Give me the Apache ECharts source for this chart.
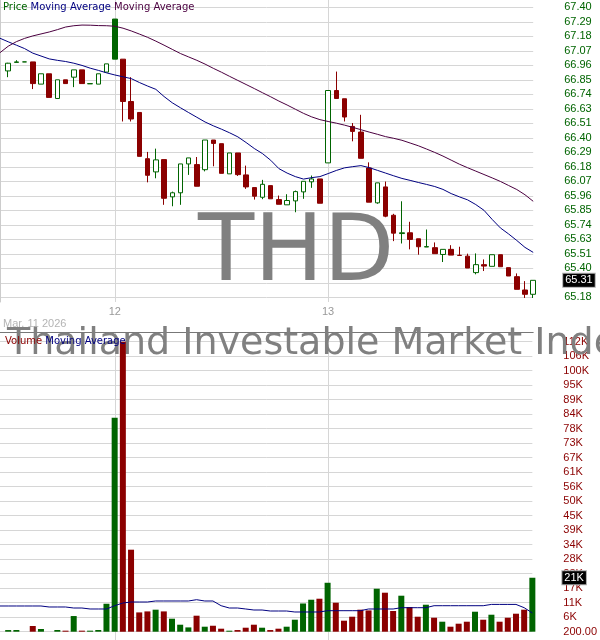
<!DOCTYPE html>
<html>
<head>
<meta charset="utf-8">
<script src="https://cdn.jsdelivr.net/npm/echarts@6/dist/echarts.min.js"></script>
<style>html,body{margin:0;padding:0;background:#fff}#c{width:600px;height:640px}</style>
</head>
<body>
<div id="c"></div>
<script>
// ---- categories (15-minute bars); first slot is the bar just before the window (MA lines start there)
const edgeTime = '03-11 12:30';
const day11Slots = ['12:45','13:00','13:15','13:30','13:45','14:00','14:15','14:30','14:45','15:00','15:15','15:30','15:45'];
const daySlots = ['09:30','09:45','10:00','10:15','10:30','10:45','11:00','11:15','11:30','11:45','12:00','12:15','12:30','12:45','13:00','13:15','13:30','13:45','14:00','14:15','14:30','14:45','15:00','15:15','15:30','15:45'];

// ---- x tick labels (bar index -> day label)
const dayTickIdx = [13, 39];
const dayTickLabels = ['12', '13'];
const dateLabel = 'Mar. 11 2026';

// ---- price OHLC
const open  = [66.913,66.978,66.982,66.982,66.812,66.891,66.702,66.845,66.865,66.921,66.814,66.812,66.904,67.310,67.003,66.679,66.595,66.241,66.140,66.234,65.949,65.980,66.201,66.196,66.157,66.384,66.356,66.125,66.285,66.117,66.020,65.946,66.035,65.928,65.888,65.918,65.987,66.064,66.086,66.209,66.763,66.700,66.488,66.445,66.170,65.903,66.025,65.808,65.668,65.674,65.628,65.565,65.560,65.508,65.547,65.502,65.495,65.369,65.430,65.417,65.506,65.407,65.338,65.236,65.203];
const close = [66.972,66.982,66.982,66.816,66.891,66.710,66.845,66.816,66.921,66.816,66.816,66.891,66.967,67.003,66.679,66.545,66.259,66.114,66.232,65.938,65.980,66.201,66.247,66.030,66.384,66.358,66.129,66.285,66.119,66.025,65.954,66.045,65.934,65.892,65.921,65.989,66.068,66.086,65.900,66.763,66.702,66.560,66.450,66.244,65.908,66.056,65.801,65.671,65.674,65.623,65.567,65.568,65.514,65.547,65.503,65.500,65.404,65.430,65.419,65.506,65.414,65.343,65.241,65.203,65.310];
const low   = [66.865,66.978,66.982,66.774,66.812,66.710,66.702,66.816,66.789,66.816,66.814,66.812,66.904,67.003,66.526,66.526,66.259,66.060,66.091,65.888,65.877,65.888,66.117,66.030,66.144,66.183,66.129,66.125,66.109,66.010,65.928,65.931,65.934,65.892,65.888,65.831,65.934,66.018,65.900,66.209,66.702,66.526,66.374,66.244,65.908,65.896,65.793,65.610,65.592,65.547,65.506,65.565,65.514,65.450,65.503,65.500,65.404,65.356,65.381,65.417,65.414,65.343,65.241,65.175,65.175];
const high  = [66.975,66.995,66.982,66.982,66.891,66.891,66.845,66.845,66.921,66.921,66.816,66.891,66.967,67.310,67.003,66.865,66.595,66.293,66.318,66.234,65.989,66.201,66.247,66.254,66.384,66.384,66.356,66.285,66.285,66.188,66.020,66.079,66.035,65.959,65.969,65.997,66.068,66.112,66.086,66.763,66.908,66.700,66.514,66.577,66.213,66.056,66.066,65.819,65.915,65.758,65.628,65.699,65.600,65.547,65.579,65.567,65.514,65.516,65.470,65.506,65.506,65.407,65.363,65.304,65.310];

// ---- price moving averages (66 values: edge slot + 65 bars)
const maShort = [67.163,67.136,67.110,67.084,67.049,67.027,67.005,66.994,66.985,66.972,66.955,66.934,66.917,66.898,66.882,66.868,66.854,66.824,66.797,66.772,66.717,66.669,66.631,66.594,66.558,66.522,66.493,66.467,66.439,66.408,66.365,66.319,66.280,66.229,66.165,66.131,66.104,66.085,66.096,66.104,66.127,66.151,66.171,66.180,66.188,66.173,66.152,66.131,66.110,66.090,66.075,66.059,66.044,66.028,66.006,65.974,65.949,65.926,65.890,65.846,65.776,65.711,65.665,65.615,65.562,65.524];
const maLong  = [67.053,67.102,67.137,67.162,67.181,67.196,67.211,67.229,67.249,67.259,67.264,67.263,67.260,67.259,67.255,67.240,67.219,67.195,67.170,67.141,67.110,67.078,67.046,67.020,66.994,66.965,66.933,66.903,66.871,66.840,66.809,66.778,66.746,66.715,66.682,66.652,66.620,66.588,66.561,66.540,66.526,66.513,66.498,66.481,66.463,66.445,66.428,66.410,66.397,66.382,66.361,66.340,66.315,66.289,66.261,66.230,66.199,66.172,66.146,66.120,66.094,66.067,66.036,66.005,65.965,65.915];

// ---- volume
const volume = [640,650,0,2200,1050,0,650,400,6050,400,400,650,10800,82650,112000,31670,7450,7840,8500,7840,5020,2700,1660,6180,1930,2300,1160,390,640,1540,2700,1540,640,1160,1930,4630,10900,12350,12740,18900,11200,4250,5790,8500,8220,16600,15060,8000,13900,9530,5790,10420,5400,3860,1930,3090,3860,7720,4630,6560,3860,5400,6950,8500,20840];
const volumeMA = [9930,9930,9930,9930,9930,9930,9540,9540,9540,9150,9150,8770,8770,8770,10040,11080,11470,11470,11470,11860,11860,11860,11860,11860,12360,11860,11860,10040,9150,9150,8770,8380,8380,7990,7990,7990,7610,7610,7610,7610,8110,8110,8110,8110,8110,8770,8770,8770,8770,9270,9270,9270,9270,10040,10040,10040,10040,10040,10040,10040,10540,10540,10540,10540,9270,7220];

// ---- axis tick labels
const priceMin = 65.18, priceMax = 67.40, priceStep = 0.111;
const priceTickLabels = ['65.18','65.29','65.40','65.51','65.63','65.74','65.85','65.96','66.07','66.18','66.29','66.40','66.51','66.63','66.74','66.85','66.96','67.07','67.18','67.29','67.40'];
const volStep = 5600, volMax = 112000;
const volTickLabels = ['200.00','6K','11K','17K','23K','28K','34K','39K','45K','50K','56K','61K','67K','73K','78K','84K','89K','95K','100K','106K','112K'];

// ---- build
const GREEN = '#006400', RED = '#8b0000', NAVY = '#000080', PURPLE = '#4b0040';
const GRID = '#d6d6d6';
const categories = [edgeTime]
  .concat(day11Slots.map(t => '03-11 ' + t))
  .concat(daySlots.map(t => '03-12 ' + t))
  .concat(daySlots.map(t => '03-13 ' + t));
const tickCat = dayTickIdx.map(i => i + 1);

const trend = close.map((c, i) => c >= (i ? close[i - 1] : open[i]) ? GREEN : RED);
const candleData = open.map((o, i) => {
  const col = trend[i];
  const fill = close[i] > o ? '#ffffff' : col;
  return {
    value: [i + 1, o, close[i], low[i], high[i]],
    itemStyle: { color: fill, color0: fill, borderColor: col, borderColor0: col, borderColorDoji: col, borderWidth: 1 }
  };
});
const volData = volume.map((v, i) => ({ value: [i + 1, v], itemStyle: { color: trend[i] } }));
const lastClose = close[close.length - 1];
const lastVol = volume[volume.length - 1];

const W = 533.2;
const FONT = 'Liberation Sans';
const boxLabel = (txt) => ({
  show: true, position: 'end', distance: 30, formatter: txt,
  color: '#fff', backgroundColor: '#000', borderColor: '#aaa', borderWidth: 1,
  padding: [1, 2, 0, 2], fontSize: 11, fontFamily: FONT, lineHeight: 12
});

const hiddenX = (gi) => ({
  type: 'category', gridIndex: gi, data: categories, boundaryGap: false,
  axisLine: { show: false }, axisTick: { show: false }, axisLabel: { show: false }, splitLine: { show: false }
});

const option = {
  animation: false,
  backgroundColor: '#fff',
  textStyle: { fontFamily: FONT },
  grid: [
    { left: 0, top: 7.3, width: W, height: 290 },
    { left: 0, top: 341.7, width: W, height: 290 },
    { left: 0, top: 0, width: W, height: 302 },
    { left: 0, top: 332, width: W, height: 308 }
  ],
  xAxis: [
    hiddenX(0),
    hiddenX(1),
    {
      type: 'category', gridIndex: 2, data: categories, boundaryGap: false,
      axisLine: { show: false }, axisTick: { show: false },
      axisLabel: {
        show: true, interval: (idx) => tickCat.includes(idx),
        formatter: (v, idx) => { const k = tickCat.indexOf(idx); return k >= 0 ? dayTickLabels[k] : ''; },
        color: '#999', fontSize: 11, fontFamily: FONT, margin: 4
      },
      splitLine: { show: true, interval: (idx) => tickCat.includes(idx), lineStyle: { color: GRID, width: 1 } }
    },
    {
      type: 'category', gridIndex: 3, data: categories, boundaryGap: false, position: 'top',
      axisLine: { show: true, onZero: false, lineStyle: { color: '#777', width: 1 } },
      axisTick: { show: false }, axisLabel: { show: false },
      splitLine: { show: true, interval: (idx) => tickCat.includes(idx), lineStyle: { color: GRID, width: 1 } }
    }
  ],
  yAxis: [
    {
      type: 'value', gridIndex: 0, position: 'right', min: priceMin, max: priceMax, interval: priceStep,
      axisLine: { show: false }, axisTick: { show: false },
      axisLabel: {
        formatter: (v) => priceTickLabels[Math.round((v - priceMin) / priceStep)] || '',
        color: GREEN, fontSize: 11, fontFamily: FONT, align: 'left', margin: 31
      },
      splitLine: { show: true, lineStyle: { color: GRID, width: 1 } }
    },
    {
      type: 'value', gridIndex: 1, position: 'right', min: 0, max: volMax, interval: volStep,
      axisLine: { show: false }, axisTick: { show: false },
      axisLabel: {
        formatter: (v) => volTickLabels[Math.round(v / volStep)] || '',
        color: RED, fontSize: 11, fontFamily: FONT, align: 'left', margin: 31
      },
      splitLine: { show: true, lineStyle: { color: GRID, width: 1 } }
    },
    {
      type: 'value', gridIndex: 2, position: 'left',
      axisLine: { show: true, onZero: false, lineStyle: { color: '#ccc', width: 1 } },
      axisTick: { show: false }, axisLabel: { show: false }, splitLine: { show: false }
    },
    { type: 'value', gridIndex: 3, show: false, splitLine: { show: false } }
  ],
  title: [
    {
      text: '{p|Price} {a|Moving Average} {b|Moving Average}', left: 3, top: 1, padding: 0,
      textStyle: {
        fontSize: 10, fontFamily: 'DejaVu Sans', fontWeight: 'normal', lineHeight: 12,
        rich: {
          p: { color: GREEN, fontSize: 10, fontFamily: 'DejaVu Sans', lineHeight: 12 },
          a: { color: NAVY, fontSize: 10, fontFamily: 'DejaVu Sans', lineHeight: 12 },
          b: { color: PURPLE, fontSize: 10, fontFamily: 'DejaVu Sans', lineHeight: 12 }
        }
      }
    },
    {
      text: '{v|Volume} {a|Moving Average}', left: 5, top: 335, padding: 0,
      textStyle: {
        fontSize: 10, fontFamily: 'DejaVu Sans', fontWeight: 'normal', lineHeight: 12,
        rich: {
          v: { color: RED, fontSize: 10, fontFamily: 'DejaVu Sans', lineHeight: 12 },
          a: { color: NAVY, fontSize: 10, fontFamily: 'DejaVu Sans', lineHeight: 12 }
        }
      }
    },
    {
      text: dateLabel, left: 3, top: 318, padding: 0,
      textStyle: { color: '#b4b4b4', fontSize: 11, fontFamily: FONT, fontWeight: 'normal', lineHeight: 12 }
    }
  ],
  graphic: [
    {
      type: 'text', x: 198, y: 255.7, z: 1, silent: true,
      style: { text: 'THD', font: '92px "DejaVu Sans"', fill: '#808080', textAlign: 'left', textVerticalAlign: 'middle', align: 'left', verticalAlign: 'middle' }
    },
    {
      type: 'text', x: 7, y: 343.7, z: 1, silent: true,
      style: { text: 'Thailand Investable Market Index', font: '38px "DejaVu Sans"', fill: '#808080', textAlign: 'left', textVerticalAlign: 'middle', align: 'left', verticalAlign: 'middle' }
    }
  ],
  series: [
    {
      type: 'candlestick', name: 'Price', xAxisIndex: 0, yAxisIndex: 0,
      data: candleData, encode: { x: 0, y: [1, 2, 3, 4] },
      barWidth: 5, clip: false, z: 3,
      markLine: {
        silent: true, symbol: ['none', 'none'], animation: false,
        lineStyle: { color: 'transparent', width: 1 },
        label: boxLabel(lastClose.toFixed(2)),
        emphasis: { disabled: true },
        data: [{ yAxis: lastClose }]
      }
    },
    {
      type: 'line', name: 'MA short', xAxisIndex: 0, yAxisIndex: 0, data: maShort,
      symbol: 'none', lineStyle: { color: NAVY, width: 1 }, z: 4
    },
    {
      type: 'line', name: 'MA long', xAxisIndex: 0, yAxisIndex: 0, data: maLong,
      symbol: 'none', lineStyle: { color: PURPLE, width: 1 }, z: 4
    },
    {
      type: 'bar', name: 'Volume', xAxisIndex: 1, yAxisIndex: 1, data: volData,
      barWidth: 6, clip: false, z: 3,
      markLine: {
        silent: true, symbol: ['none', 'none'], animation: false,
        lineStyle: { color: 'transparent', width: 1 },
        label: boxLabel(Math.round(lastVol / 1000) + 'K'),
        emphasis: { disabled: true },
        data: [{ yAxis: lastVol }]
      }
    },
    {
      type: 'line', name: 'Volume MA', xAxisIndex: 1, yAxisIndex: 1, data: volumeMA,
      symbol: 'none', lineStyle: { color: NAVY, width: 1 }, z: 4
    }
  ]
};

const chart = echarts.init(document.getElementById('c'), null, { renderer: 'canvas' });
chart.setOption(option);
</script>
</body>
</html>
